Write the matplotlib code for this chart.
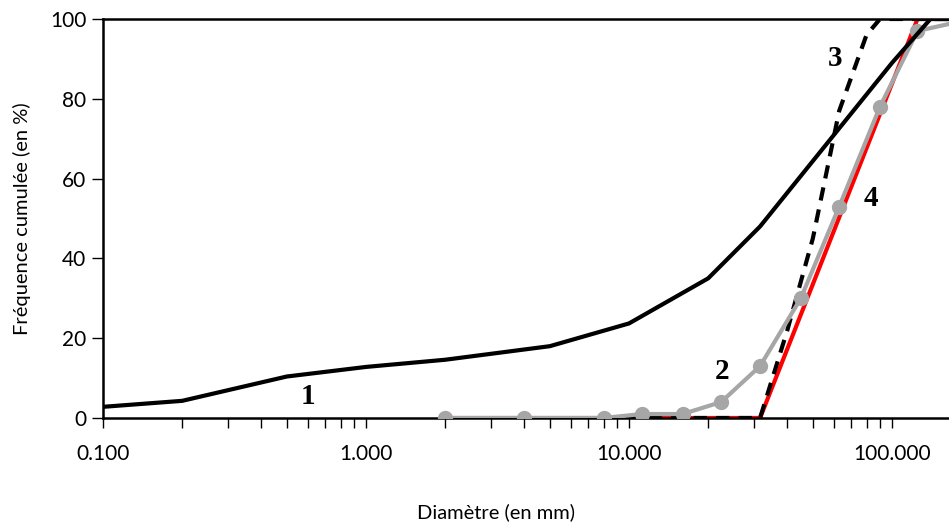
import matplotlib.pyplot as plt
from matplotlib.ticker import LogLocator, FuncFormatter, NullFormatter

# courbe 1 (noire continue)
d1 = [0.1, 0.2, 0.5, 1, 2, 5, 10, 20, 31.5, 100, 140, 200]
f1 = [2.8, 4.3, 10.4, 12.8, 14.6, 18, 23.7, 35, 48, 89, 100, 100]

# courbe 2 (grise avec points)
d2 = [2, 4, 8, 11.2, 16, 22.4, 31.5, 45, 63, 90, 125, 200]
f2 = [0, 0, 0, 1, 1, 4, 13, 30, 53, 78, 97, 100]

# courbe 3 (noire en tirets)
d3 = [8, 31.5, 40, 50, 63, 80, 90, 200]
f3 = [0, 0, 22, 45, 77, 96, 100, 100]

# courbe 4 (rouge)
d4 = [2, 31.5, 125, 200]
f4 = [0, 0, 100, 100]

labels = ["1", "2", "3", "4"]
label_pos = [(0.6, 5.3), (22.6, 11.6), (61, 90), (83, 55)]

plt.rcParams["font.family"] = ["Lato", "DejaVu Sans"]

fig = plt.figure(figsize=(9.49, 5.25), dpi=100)
ax = fig.add_axes([103 / 949, 1 - 418 / 525, 1 - 103 / 949, (418 - 19) / 525])

ax.plot(d4, f4, color="#FF0000", lw=3, zorder=2)
ax.plot(d3, f3, color="black", lw=3, ls=(0, (3.2, 2.2)), zorder=3)
ax.plot(d2, f2, color="#A6A6A6", lw=3, marker="o", ms=10, zorder=4)
ax.plot(d1, f1, color="black", lw=3, zorder=5)

for lab, (x, y) in zip(labels, label_pos):
    ax.text(x, y, lab, ha="center", va="center", fontsize=21, fontweight="bold",
            family="Liberation Serif", zorder=6)

ax.set_xscale("log")
ax.set_xlim(0.1, 10 ** (-1 + (949 - 103) / 263))
ax.set_ylim(0, 100)
ax.set_yticks([0, 20, 40, 60, 80, 100])
ax.xaxis.set_major_locator(LogLocator(base=10))
ax.xaxis.set_minor_locator(LogLocator(base=10, subs=range(2, 10)))
ax.xaxis.set_major_formatter(FuncFormatter(lambda v, p: "{:.3f}".format(v)))
ax.xaxis.set_minor_formatter(NullFormatter())

ax.tick_params(axis="both", which="both", direction="out", width=1, color="black",
               labelsize=15)
ax.tick_params(axis="x", which="both", length=7, pad=12)
ax.tick_params(axis="y", length=8, pad=4)

for s in ["left", "bottom", "top"]:
    ax.spines[s].set_linewidth(1.8)
ax.spines["right"].set_visible(False)

ax.set_ylabel("Fréquence cumulée (en %)", fontsize=14.5)
ax.yaxis.set_label_coords(-0.085, 0.5)
fig.text(496 / 949, 1 - 512 / 525, "Diamètre (en mm)", ha="center", va="center",
         fontsize=14.5)

plt.savefig("out.png")
